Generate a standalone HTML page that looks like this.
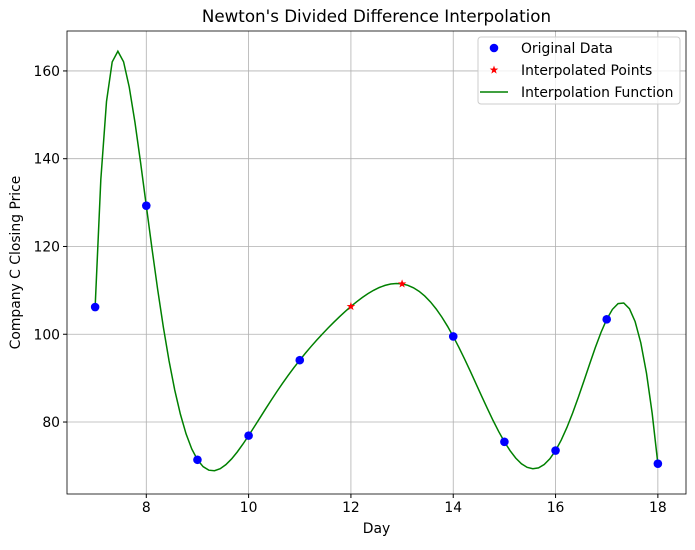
<!DOCTYPE html>
<html><head><meta charset="utf-8">
<style>
body{margin:0;background:#fff;}
svg text{font-family:"DejaVu Sans","Liberation Sans",sans-serif;fill:#000;}
</style></head>
<body>
<svg id="chart" width="695" height="545" viewBox="0 0 695 545" xmlns="http://www.w3.org/2000/svg">
</svg>
<script>
const days=[7,8,9,10,11,14,15,16,17,18];
const prices=[106.2,129.3,71.4,76.9,94.1,99.5,75.5,73.5,103.4,70.5];
const interpDays=[12,13];
const xTicks=[8,10,12,14,16,18];
const yTicks=[80,100,120,140,160];

const L=67,R=686,T=31,B=494;
const xMin=6.45,xMax=18.55,yMin=63.6,yMax=169.1;
const X=v=>L+(v-xMin)/(xMax-xMin)*(R-L);
const Y=v=>B-(v-yMin)/(yMax-yMin)*(B-T);
const NS="http://www.w3.org/2000/svg";
const svg=document.getElementById('chart');
function mk(tag,attrs,parent){const e=document.createElementNS(NS,tag);for(const k in attrs)e.setAttribute(k,attrs[k]);(parent||svg).appendChild(e);return e;}

// Newton divided differences
const n=days.length;const coef=prices.slice();
for(let j=1;j<n;j++)for(let i=n-1;i>=j;i--)coef[i]=(coef[i]-coef[i-1])/(days[i]-days[i-j]);
function newton(x){let r=coef[n-1];for(let i=n-2;i>=0;i--)r=r*(x-days[i])+coef[i];return r;}

// grid
const grid=mk('g',{});


xTicks.forEach(t=>{mk('line',{x1:X(t),x2:X(t),y1:T,y2:B,stroke:'#b0b0b0','stroke-width':0.8},grid);});
yTicks.forEach(t=>{mk('line',{x1:L,x2:R,y1:Y(t),y2:Y(t),stroke:'#b0b0b0','stroke-width':0.8},grid);});

// ticks
xTicks.forEach(t=>{mk('line',{x1:X(t),x2:X(t),y1:B,y2:B+4,stroke:'#000'});
 const tx=mk('text',{x:X(t),y:B+18,'text-anchor':'middle','font-size':'13.9'});tx.textContent=t;
 
 });
yTicks.forEach(t=>{mk('line',{x1:L-4,x2:L,y1:Y(t),y2:Y(t),stroke:'#000'});
 const tx=mk('text',{x:L-7,y:Y(t)+5,'text-anchor':'end','font-size':'13.9'});tx.textContent=t;
 
 });

// curve
const N=100;let d='';
for(let i=0;i<N;i++){const x=days[0]+(days[n-1]-days[0])*i/(N-1);d+=(i?'L':'M')+X(x).toFixed(2)+','+Y(newton(x)).toFixed(2);}
const curve=mk('path',{d:d,fill:'none',stroke:'green','stroke-width':1.5});



// data points
days.forEach((x,i)=>{const c=mk('circle',{cx:X(x),cy:Y(prices[i]),r:4.3,fill:'blue'});
 
 });
// interpolated stars
function star(cx,cy,r,col){let p='';for(let i=0;i<10;i++){const a=-Math.PI/2+i*Math.PI/5;const rr=i%2?r*0.4:r;p+=(cx+rr*Math.cos(a)).toFixed(2)+','+(cy+rr*Math.sin(a)).toFixed(2)+' ';}return mk('polygon',{points:p,fill:col});}
interpDays.forEach(x=>{const s=star(X(x),Y(newton(x)),4.5,'red');
 
 });

// frame
mk('rect',{x:L,y:T,width:R-L,height:B-T,fill:'none',stroke:'#000','stroke-width':0.8});

// labels
let t=mk('text',{x:(L+R)/2,y:22,'text-anchor':'middle','font-size':'16.7'});t.textContent="Newton's Divided Difference Interpolation";

t=mk('text',{x:(L+R)/2,y:533,'text-anchor':'middle','font-size':'13.9'});t.textContent='Day';

t=mk('text',{x:20,y:(T+B)/2,'text-anchor':'middle','font-size':'13.9',transform:'rotate(-90 20 '+(T+B)/2+')'});t.textContent='Company C Closing Price';


// legend
const lg=mk('g',{});


mk('rect',{x:478,y:37,width:202,height:67,rx:3,fill:'#fff','fill-opacity':0.8,stroke:'#ccc'},lg);
mk('circle',{cx:494,cy:48,r:4.3,fill:'blue'},lg);
star(494,70,4.5,'red');
mk('line',{x1:480,x2:508,y1:92,y2:92,stroke:'green','stroke-width':1.5},lg);
[['Original Data',48],['Interpolated Points',70],['Interpolation Function',92]].forEach(([s,y])=>{
 const e=mk('text',{x:521,y:y+5,'font-size':'13.9'},lg);e.textContent=s;
 
 });
</script>
</body></html>
